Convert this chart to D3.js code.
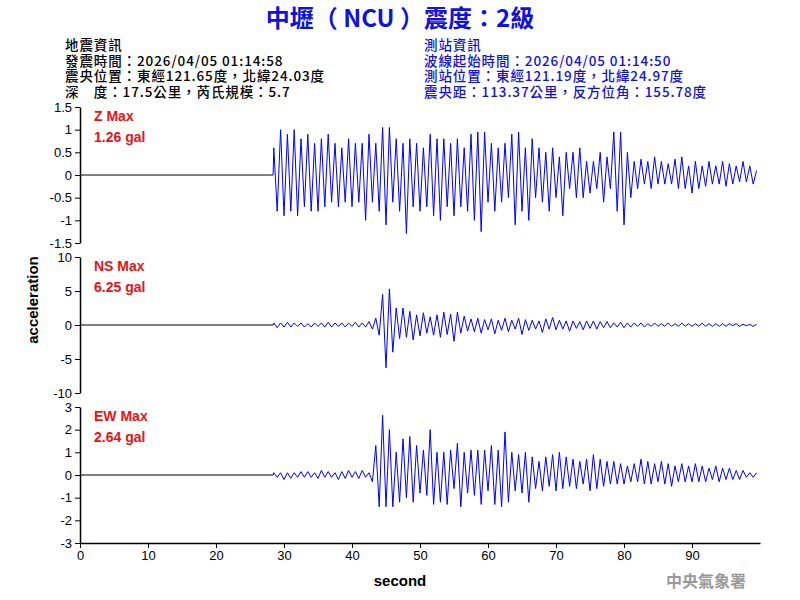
<!DOCTYPE html>
<html><head><meta charset="utf-8">
<script src="https://cdn.jsdelivr.net/npm/d3@7"></script>
<style>body{margin:0;background:#fff}</style></head>
<body><svg id="chart" width="800" height="600"></svg>
<script>
// samples every 0.5 s starting at t0 (alternating peaks)
const t0 = 28.5;
const dt = 0.5;
const zValues = [0.6,-0.8,1.0,-0.9,0.9,-0.8,1.0,-0.9,0.8,-0.7, 0.9,-0.8,0.7,-0.8,0.8,-0.7,0.9,-0.6,0.7,-0.7,
  0.6,-0.6,0.8,-0.7,0.7,-0.6,0.7,-1.0,0.9,-0.6, 0.7,-0.8,1.05,-1.1,1.05,-0.6,0.8,-0.8,0.7,-1.29,
  0.8,-0.7,0.7,-0.8,0.6,-0.7,0.9,-0.9,0.8,-1.0, 0.8,-0.7,0.7,-0.9,0.8,-0.7,0.6,-0.8,0.9,-1.0,
  0.95,-1.25,0.95,-0.6,0.7,-0.8,0.6,-0.6,0.7,-0.5, 0.9,-1.1,0.95,-0.8,0.6,-1.0,0.8,-0.5,0.6,-0.6,
  0.5,-0.8,0.6,-0.5,0.4,-0.9,0.5,-0.3,0.5,-0.5, 0.6,-0.5,0.3,-0.4,0.3,-0.3,0.5,-0.6,0.4,-0.3,
  0.95,-0.8,0.95,-1.1,0.5,-0.5,0.3,-0.3,0.35,-0.2, 0.3,-0.3,0.4,-0.2,0.3,-0.2,0.25,-0.2,0.35,-0.3,
  0.4,-0.3,0.2,-0.4,0.3,-0.3,0.2,-0.25,0.3,-0.2, 0.2,-0.2,0.3,-0.25,0.25,-0.2,0.2,-0.15,0.3,-0.15,
  0.2,-0.2,0.1];
const nsValues = [0.3,-0.4,0.3,-0.3,0.4,-0.3,0.3,-0.2,0.3,-0.3, 0.2,-0.3,0.3,-0.2,0.3,-0.3,0.4,-0.3,0.3,-0.2,
  0.3,-0.3,0.3,-0.2,0.4,-0.3,0.3,-0.3,0.5,-0.6, 1.0,-1.5,4.5,-6.3,5.3,-4.0,2.5,-2.0,2.5,-1.8,
  2.0,-2.2,1.5,-1.6,1.8,-1.2,1.2,-1.5,1.5,-1.8, 1.9,-1.4,1.6,-2.4,1.9,-1.2,1.3,-0.9,0.9,-1.0,
  1.0,-1.2,0.8,-0.7,0.9,-1.3,0.7,-0.8,1.0,-1.0, 0.7,-0.6,1.0,-1.4,0.8,-0.8,0.7,-0.6,0.6,-1.1,
  0.9,-0.6,1.1,-0.7,0.7,-0.6,0.6,-0.9,0.6,-0.5, 0.5,-0.7,0.6,-0.5,0.6,-0.6,0.5,-0.4,0.5,-0.4,
  0.3,-0.3,0.4,-0.4,0.3,-0.3,0.3,-0.2,0.3,-0.3, 0.2,-0.2,0.3,-0.2,0.2,-0.2,0.3,-0.2,0.2,-0.2,
  0.3,-0.2,0.2,-0.2,0.2,-0.2,0.3,-0.2,0.2,-0.2, 0.2,-0.2,0.2,-0.2,0.2,-0.1,0.2,-0.2,0.1,-0.1,
  0.1,-0.2,0.1];
const ewValues = [0.1,-0.1,0.1,-0.2,0.1,-0.15,0.1,-0.1,0.15,-0.1, 0.15,-0.1,0.1,-0.15,0.2,-0.1,0.15,-0.1,0.1,-0.2,
  0.15,-0.15,0.2,-0.1,0.15,-0.15,0.2,-0.1,0.1,-0.3, 1.3,-1.4,2.64,-1.4,2.0,-1.4,1.0,-1.2,1.6,-1.0,
  1.7,-1.2,1.3,-0.8,1.1,-0.9,2.0,-1.3,1.0,-1.2, 1.0,-1.3,1.1,-0.6,1.4,-1.4,1.0,-0.8,1.1,-0.9,
  1.1,-1.3,1.1,-0.7,1.3,-1.3,1.1,-1.4,1.9,-1.2, 1.0,-0.7,0.9,-0.8,1.0,-1.2,0.8,-0.6,0.6,-0.7,
  0.8,-0.5,0.9,-0.7,1.0,-0.6,0.8,-0.5,0.7,-0.6, 0.6,-0.4,0.7,-0.7,0.9,-0.6,0.7,-0.5,0.6,-0.4,
  0.6,-0.4,0.5,-0.4,0.4,-0.3,0.5,-0.3,0.7,-0.4, 0.6,-0.4,0.5,-0.3,0.6,-0.4,0.5,-0.5,0.4,-0.3,
  0.5,-0.3,0.4,-0.3,0.5,-0.3,0.4,-0.3,0.3,-0.2, 0.4,-0.3,0.3,-0.2,0.3,-0.2,0.2,-0.2,0.2,-0.1,
  0.1,-0.1,0.1];

const channelNames = ["Z Max", "NS Max", "EW Max"];
const channelMax = ["1.26 gal", "6.25 gal", "2.64 gal"];
const channelDomains = [[-1.5, 1.5], [-10, 10], [-3, 3]];
const channelTicks = [[-1.5,-1,-0.5,0,0.5,1,1.5], [-10,-5,0,5,10], [-3,-2,-1,0,1,2,3]];
const xTicks = [0,10,20,30,40,50,60,70,80,90];

const leftInfo = ["地震資訊", "發震時間：2026/04/05 01:14:58", "震央位置：東經121.65度，北緯24.03度", "深　度：17.5公里，芮氏規模：5.7"];
const rightInfo = ["測站資訊", "波線起始時間：2026/04/05 01:14:50", "測站位置：東經121.19度，北緯24.97度", "震央距：113.37公里，反方位角：155.78度"];

const svg = d3.select("#chart");
const x = d3.scaleLinear().domain([0, 100]).range([80, 760]);
const panelTops = [107, 257, 407];
const panelH = 136;

svg.append("text").attr("x", 400).attr("y", 27).attr("text-anchor", "middle")
  .style("font", "bold 24px 'Noto Sans CJK TC', sans-serif").style("fill", "#1010e0")
  .text("中壢（ NCU ）震度：2級");

const infoFont = "500 13.5px 'Noto Sans CJK TC', serif";
leftInfo.forEach((s, i) => svg.append("text").attr("x", 65).attr("y", 50 + i * 15.5)
  .style("font", infoFont).style("letter-spacing", "0.9px").style("fill", "#000").text(s));
rightInfo.forEach((s, i) => svg.append("text").attr("x", 424).attr("y", 50 + i * 15.5)
  .style("font", infoFont).style("letter-spacing", "0.9px").style("fill", "#1010e0").text(s));

const series = [zValues, nsValues, ewValues];
series.forEach((vals, k) => {
  const y = d3.scaleLinear().domain(channelDomains[k]).range([panelTops[k] + panelH, panelTops[k]]);
  const g = svg.append("g");
  g.append("g").attr("transform", "translate(80,0)")
    .call(d3.axisLeft(y).tickValues(channelTicks[k]).tickFormat(d => d).tickSize(5).tickSizeOuter(0))
    .call(a => a.selectAll("text").style("font", "13px Arial, 'Liberation Sans', sans-serif"))
    .call(a => a.select(".domain").attr("stroke-width", 1.5));

  // flat line before trigger
  g.append("line").attr("x1", x(0)).attr("x2", x(t0 - 0.1))
    .attr("y1", y(0)).attr("y2", y(0)).attr("stroke", "#000");

  const pts = [[t0 - 0.1, 0]].concat(vals.map((v, i) => [t0 + i * dt, v]));
  g.append("path").datum(pts)
    .attr("d", d3.line().x(d => x(d[0])).y(d => y(d[1])))
    .attr("fill", "none").attr("stroke", "#0000ff").attr("stroke-width", 1);

  g.append("text").attr("x", 94).attr("y", panelTops[k] + 14)
    .style("font", "bold 14px Arial, sans-serif").style("fill", "#ee1111").text(channelNames[k]);
  g.append("text").attr("x", 94).attr("y", panelTops[k] + 35)
    .style("font", "bold 14px Arial, sans-serif").style("fill", "#ee1111").text(channelMax[k]);
});

svg.append("g").attr("transform", "translate(0,543)")
  .call(d3.axisBottom(x).tickValues(xTicks).tickSize(5).tickSizeOuter(0))
  .call(a => a.selectAll("text").style("font", "13px Arial, 'Liberation Sans', sans-serif"))
  .call(a => a.select(".domain").attr("stroke-width", 1.5));

svg.append("text").attr("x", 400).attr("y", 586).attr("text-anchor", "middle")
  .style("font", "bold 15px Arial, sans-serif").text("second");
svg.append("text").attr("transform", "translate(38,300) rotate(-90)").attr("text-anchor", "middle")
  .style("font", "bold 15px Arial, sans-serif").text("acceleration");
svg.append("text").attr("x", 746).attr("y", 587).attr("text-anchor", "end")
  .style("font", "bold 16px 'Noto Sans CJK TC', serif").style("fill", "#999").text("中央氣象署");
</script></body></html>
